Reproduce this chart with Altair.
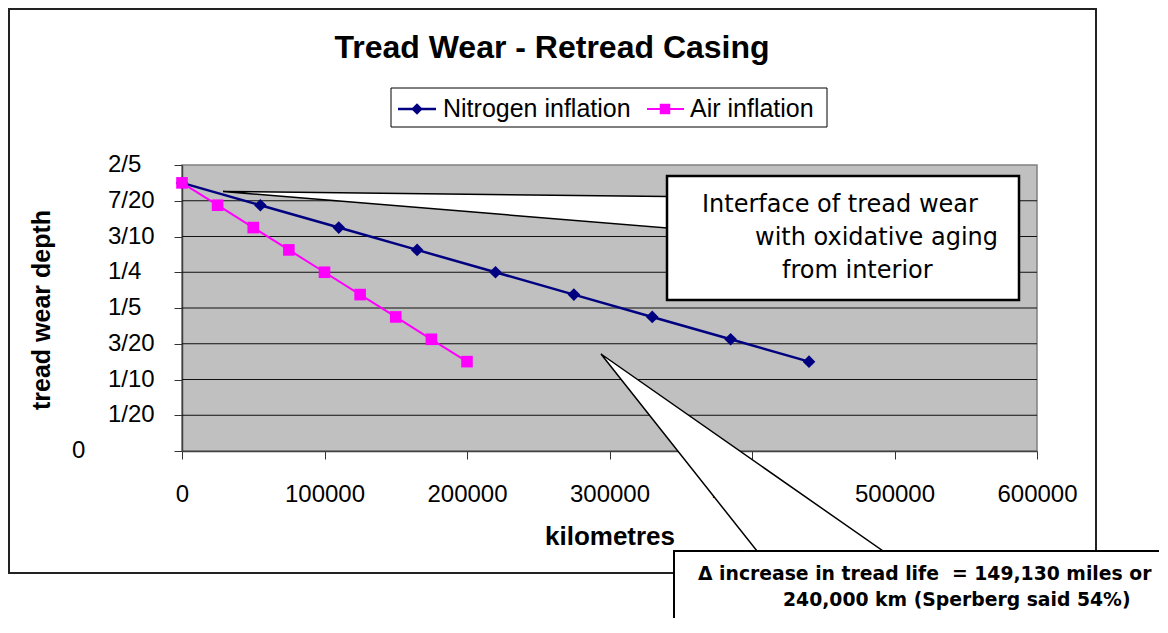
import altair as alt
import pandas as pd

# ---------------- data ----------------
series_names = ["Nitrogen inflation", "Air inflation"]
series_colors = ["#000080", "#FF00FF"]
series_shapes = ["diamond", "square"]
nitrogen_km = [0, 55000, 110000, 165000, 220000, 275000, 330000, 385000, 440000]
air_km = [0, 25000, 50000, 75000, 100000, 125000, 150000, 175000, 200000]
nitrogen_depth = [0.375, 0.34375, 0.3125, 0.28125, 0.25, 0.21875, 0.1875, 0.15625, 0.125]
air_depth = [0.375, 0.34375, 0.3125, 0.28125, 0.25, 0.21875, 0.1875, 0.15625, 0.125]
x_ticks = [0, 100000, 200000, 300000, 400000, 500000, 600000]
y_ticks = [0, 0.05, 0.1, 0.15, 0.2, 0.25, 0.3, 0.35, 0.4]
y_tick_labels = ["0", "1/20", "1/10", "3/20", "1/5", "1/4", "3/10", "7/20", "2/5"]
title_text = "Tread Wear - Retread Casing"
x_title = "kilometres"
y_title = "tread wear depth"
callout1_lines = ["Interface of tread wear", "with oxidative aging", "from interior"]
callout2_lines = ["\u0394 increase in tread life\u00a0 = 149,130 miles or",
                  "240,000 km (Sperberg said 54%)"]

# ---------------- geometry (page pixels) ----------------
PX0, PY0, W, H = 182, 165, 855, 286
XMAX, YMAX = 600000, 0.4


def vx(px):
    return alt.value(px - PX0)


def vy(py):
    return alt.value(py - PY0)


def dx(px):
    return (px - PX0) / W * XMAX


def dy(py):
    return (PY0 + H - py) / H * YMAX


xscale = alt.Scale(domain=[0, XMAX], nice=False, zero=False)
yscale = alt.Scale(domain=[0, YMAX], nice=False, zero=False)
one = pd.DataFrame({"k": [0]})

x_axis = alt.Axis(values=x_ticks, format="d", labelFont="Liberation Sans",
                  labelFontSize=24, labelColor="black", labelPadding=23,
                  tickSize=8, tickColor="#333333", tickWidth=1,
                  domainColor="#404040", domainWidth=1.5, grid=False,
                  title="", labelFlush=False, labelOverlap=False)
y_axis = alt.Axis(values=y_ticks, labels=False,
                  tickSize=8, tickColor="#333333", tickWidth=1,
                  domainColor="#404040", domainWidth=1.5, grid=False,
                  title="")


def X(field):
    return alt.X(field, scale=xscale, axis=x_axis)


def Y(field):
    return alt.Y(field, scale=yscale, axis=y_axis)


def text(s, px, py, size, font="Liberation Sans", weight="normal",
         align="left", baseline="alphabetic", angle=0):
    return alt.Chart(one).mark_text(
        text=s, font=font, fontSize=size, fontWeight=weight, align=align,
        baseline=baseline, color="black", angle=angle
    ).encode(x=vx(px), y=vy(py))


def rect(x1, y1, x2, y2, fill, stroke, sw, fill_opacity=1.0):
    return alt.Chart(one).mark_rect(
        fill=fill, stroke=stroke, strokeWidth=sw, fillOpacity=fill_opacity
    ).encode(x=vx(x1), x2=vx(x2), y=vy(y1), y2=vy(y2))


def hrule(x1, x2, py, color, sw):
    return alt.Chart(one).mark_rule(color=color, strokeWidth=sw).encode(
        x=vx(x1), x2=vx(x2), y=vy(py))


def symbol(px, py, shape, color, size):
    return alt.Chart(one).mark_point(
        shape=shape, filled=True, color=color, size=size, opacity=1
    ).encode(x=vx(px), y=vy(py))


df = pd.DataFrame({
    "series": [series_names[0]] * len(nitrogen_km) + [series_names[1]] * len(air_km),
    "km": nitrogen_km + air_km,
    "depth": nitrogen_depth + air_depth,
})
ticks_df = pd.DataFrame({"v": y_ticks, "lab": y_tick_labels})

color_enc = alt.Color("series:N", scale=alt.Scale(domain=series_names, range=series_colors), legend=None)

# gridlines (inner values only; bottom = axis, top = plot border)
grid = alt.Chart(ticks_df).transform_filter(
    "datum.v > 0.001 && datum.v < 0.399"
).mark_rule(color="#111111", strokeWidth=1).encode(
    y=Y("v:Q"), x=alt.value(0), x2=alt.value(W),
)

# y tick labels (Excel fraction format: fractions left-aligned, "0" further left)
ylab_frac = alt.Chart(ticks_df).transform_filter("datum.v > 0.001").mark_text(
    font="Liberation Sans", fontSize=24, align="left", baseline="middle", color="black"
).encode(y=Y("v:Q"), x=vx(108), text="lab:N")
ylab_zero = alt.Chart(ticks_df).transform_filter("datum.v <= 0.001").mark_text(
    font="Liberation Sans", fontSize=24, align="left", baseline="middle", color="black"
).encode(y=Y("v:Q"), x=vx(72), text="lab:N")

lines = alt.Chart(df).mark_line().encode(
    x=X("km:Q"), y=Y("depth:Q"),
    color=color_enc,
    strokeWidth=alt.StrokeWidth("series:N", scale=alt.Scale(domain=series_names, range=[2.5, 2]), legend=None),
)
points = alt.Chart(df).mark_point(filled=True, opacity=1).encode(
    x=X("km:Q"), y=Y("depth:Q"),
    color=color_enc,
    shape=alt.Shape("series:N", scale=alt.Scale(domain=series_names, range=series_shapes), legend=None),
    size=alt.Size("series:N", scale=alt.Scale(domain=series_names, range=[160, 135]), legend=None),
)

# callout 1 wedge (vertical base) and callout 2 wedge (horizontal base)
w1 = pd.DataFrame({"x": [dx(223), dx(667)], "y": [dy(191.5), dy(196.5)], "y2": [dy(191.5), dy(228)]})
wedge1 = alt.Chart(w1).mark_area(fill="white", stroke="black", strokeWidth=1.5,
                                 fillOpacity=1, orient="vertical").encode(
    x=X("x:Q"), y=Y("y:Q"), y2="y2:Q",
)
w2 = pd.DataFrame({"y": [dy(354), dy(551)], "x": [dx(601), dx(757)], "x2": [dx(601), dx(883)]})
wedge2 = alt.Chart(w2).mark_area(fill="white", stroke="black", strokeWidth=1.5,
                                 fillOpacity=1, orient="horizontal").encode(
    y=Y("y:Q"), x=X("x:Q"), x2="x2:Q",
)

layers = [
    rect(9, 9, 1096, 573, "white", "#222222", 2, 0.0),
    grid,
    lines, points,
    ylab_frac, ylab_zero,
    wedge1,
    rect(667, 176, 1019, 300, "white", "black", 2.5),
    text(callout1_lines[0], 702, 212, 24, font="DejaVu Sans"),
    text(callout1_lines[1], 755, 245, 24, font="DejaVu Sans"),
    text(callout1_lines[2], 782, 278, 24, font="DejaVu Sans"),
    wedge2,
    rect(674, 551, 1250, 720, "white", "black", 2),
    text(callout2_lines[0], 698, 580, 18.8, font="DejaVu Sans", weight="bold"),
    text(callout2_lines[1], 783, 606, 18.8, font="DejaVu Sans", weight="bold"),
    # legend
    rect(391, 88, 827, 127, "white", "black", 1),
    hrule(398, 436, 109, series_colors[0], 2.5),
    symbol(417, 109, series_shapes[0], series_colors[0], 130),
    text(series_names[0], 443, 117, 25),
    hrule(647, 684, 109, series_colors[1], 2),
    symbol(665, 109, series_shapes[1], series_colors[1], 110),
    text(series_names[1], 690, 117, 25),
    # titles
    text(title_text, 552, 58, 32, weight="bold", align="center"),
    text(x_title, 610, 537, 26, weight="bold", align="center", baseline="middle"),
    text(y_title, 42, 310, 25, weight="bold", align="center", baseline="middle", angle=270),
]

chart = alt.layer(*layers).properties(
    width=W, height=H,
    autosize=alt.AutoSizeParams(type="none"),
    padding={"left": 174, "top": 157, "right": 122, "bottom": 167},
    background="white",
).configure_view(fill="#C0C0C0", stroke="#808080", strokeWidth=1.5)

chart.save("out.html", embed_options={"renderer": "svg", "actions": False})
